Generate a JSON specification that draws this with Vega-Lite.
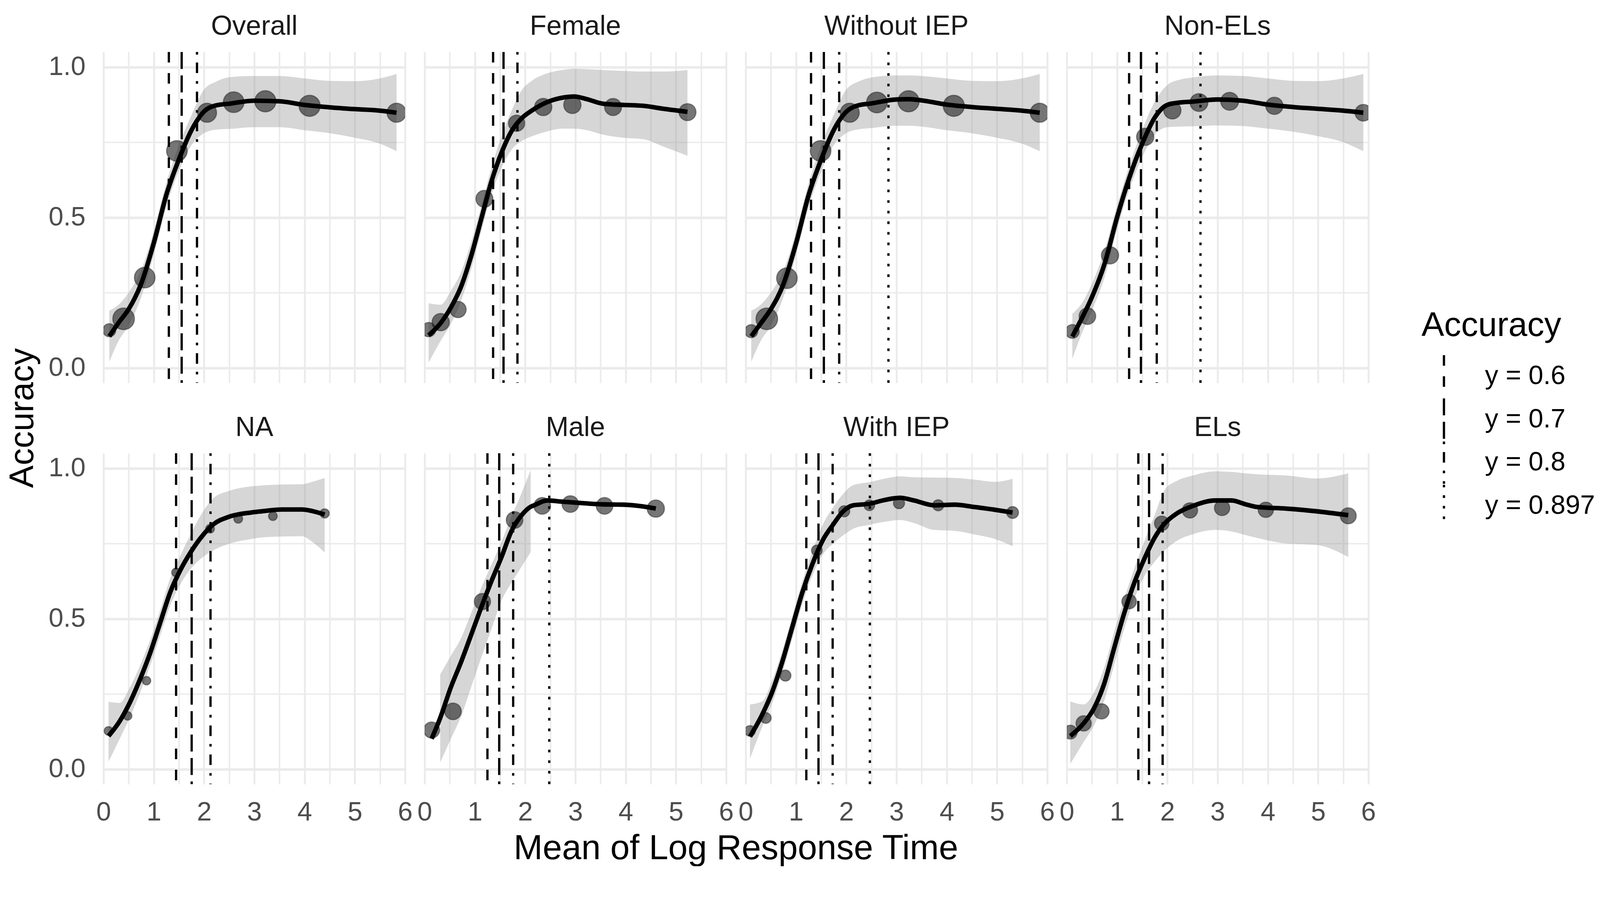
{
  "$schema": "https://vega.github.io/schema/vega-lite/v6.json",
  "background": "white",
  "padding": {"left": 15, "top": 33, "right": 0, "bottom": 0},
  "autosize": {"type": "pad"},
  "title": {"text": "Accuracy", "orient": "left", "anchor": "middle", "fontSize": 87, "font": "Liberation Sans", "fontWeight": "normal", "color": "black", "offset": 20.5, "dx": 55},
  "data": {"values": [
    {"panel":"Overall","t":"pt","x":0.115,"y":0.125,"n":400},
    {"panel":"Overall","t":"pt","x":0.40,"y":0.163,"n":1100},
    {"panel":"Overall","t":"pt","x":0.82,"y":0.30,"n":1000},
    {"panel":"Overall","t":"pt","x":1.46,"y":0.721,"n":1000},
    {"panel":"Overall","t":"pt","x":2.06,"y":0.848,"n":850},
    {"panel":"Overall","t":"pt","x":2.59,"y":0.883,"n":1000},
    {"panel":"Overall","t":"pt","x":3.22,"y":0.886,"n":1050},
    {"panel":"Overall","t":"pt","x":4.10,"y":0.871,"n":1050},
    {"panel":"Overall","t":"pt","x":5.83,"y":0.848,"n":850},
    {"panel":"Female","t":"pt","x":0.08,"y":0.127,"n":480},
    {"panel":"Female","t":"pt","x":0.32,"y":0.152,"n":700},
    {"panel":"Female","t":"pt","x":0.665,"y":0.194,"n":620},
    {"panel":"Female","t":"pt","x":1.19,"y":0.562,"n":680},
    {"panel":"Female","t":"pt","x":1.83,"y":0.813,"n":620},
    {"panel":"Female","t":"pt","x":2.36,"y":0.867,"n":700},
    {"panel":"Female","t":"pt","x":2.94,"y":0.874,"n":700},
    {"panel":"Female","t":"pt","x":3.75,"y":0.867,"n":680},
    {"panel":"Female","t":"pt","x":5.23,"y":0.85,"n":680},
    {"panel":"Without IEP","t":"pt","x":0.11,"y":0.122,"n":400},
    {"panel":"Without IEP","t":"pt","x":0.42,"y":0.163,"n":1100},
    {"panel":"Without IEP","t":"pt","x":0.82,"y":0.298,"n":1000},
    {"panel":"Without IEP","t":"pt","x":1.49,"y":0.721,"n":1000},
    {"panel":"Without IEP","t":"pt","x":2.07,"y":0.848,"n":850},
    {"panel":"Without IEP","t":"pt","x":2.61,"y":0.882,"n":1000},
    {"panel":"Without IEP","t":"pt","x":3.24,"y":0.886,"n":1050},
    {"panel":"Without IEP","t":"pt","x":4.14,"y":0.871,"n":1050},
    {"panel":"Without IEP","t":"pt","x":5.85,"y":0.848,"n":850},
    {"panel":"Non-ELs","t":"pt","x":0.11,"y":0.121,"n":450},
    {"panel":"Non-ELs","t":"pt","x":0.41,"y":0.172,"n":650},
    {"panel":"Non-ELs","t":"pt","x":0.86,"y":0.374,"n":700},
    {"panel":"Non-ELs","t":"pt","x":1.56,"y":0.768,"n":700},
    {"panel":"Non-ELs","t":"pt","x":2.10,"y":0.856,"n":700},
    {"panel":"Non-ELs","t":"pt","x":2.63,"y":0.882,"n":750},
    {"panel":"Non-ELs","t":"pt","x":3.24,"y":0.886,"n":750},
    {"panel":"Non-ELs","t":"pt","x":4.13,"y":0.871,"n":700},
    {"panel":"Non-ELs","t":"pt","x":5.90,"y":0.848,"n":650},
    {"panel":"NA","t":"pt","x":0.10,"y":0.127,"n":180},
    {"panel":"NA","t":"pt","x":0.48,"y":0.177,"n":170},
    {"panel":"NA","t":"pt","x":0.855,"y":0.294,"n":170},
    {"panel":"NA","t":"pt","x":1.44,"y":0.654,"n":170},
    {"panel":"NA","t":"pt","x":2.12,"y":0.799,"n":180},
    {"panel":"NA","t":"pt","x":2.68,"y":0.832,"n":180},
    {"panel":"NA","t":"pt","x":3.37,"y":0.841,"n":180},
    {"panel":"NA","t":"pt","x":4.40,"y":0.85,"n":200},
    {"panel":"Male","t":"pt","x":0.14,"y":0.13,"n":600},
    {"panel":"Male","t":"pt","x":0.565,"y":0.192,"n":650},
    {"panel":"Male","t":"pt","x":1.15,"y":0.557,"n":620},
    {"panel":"Male","t":"pt","x":1.79,"y":0.828,"n":650},
    {"panel":"Male","t":"pt","x":2.34,"y":0.875,"n":650},
    {"panel":"Male","t":"pt","x":2.90,"y":0.881,"n":650},
    {"panel":"Male","t":"pt","x":3.58,"y":0.875,"n":650},
    {"panel":"Male","t":"pt","x":4.60,"y":0.866,"n":700},
    {"panel":"With IEP","t":"pt","x":0.085,"y":0.127,"n":270},
    {"panel":"With IEP","t":"pt","x":0.40,"y":0.17,"n":270},
    {"panel":"With IEP","t":"pt","x":0.79,"y":0.311,"n":290},
    {"panel":"With IEP","t":"pt","x":1.415,"y":0.727,"n":270},
    {"panel":"With IEP","t":"pt","x":1.96,"y":0.857,"n":290},
    {"panel":"With IEP","t":"pt","x":2.46,"y":0.877,"n":270},
    {"panel":"With IEP","t":"pt","x":3.05,"y":0.884,"n":290},
    {"panel":"With IEP","t":"pt","x":3.83,"y":0.877,"n":290},
    {"panel":"With IEP","t":"pt","x":5.31,"y":0.853,"n":330},
    {"panel":"ELs","t":"pt","x":0.07,"y":0.123,"n":450},
    {"panel":"ELs","t":"pt","x":0.335,"y":0.152,"n":550},
    {"panel":"ELs","t":"pt","x":0.69,"y":0.192,"n":550},
    {"panel":"ELs","t":"pt","x":1.24,"y":0.557,"n":500},
    {"panel":"ELs","t":"pt","x":1.89,"y":0.817,"n":500},
    {"panel":"ELs","t":"pt","x":2.45,"y":0.86,"n":550},
    {"panel":"ELs","t":"pt","x":3.09,"y":0.868,"n":550},
    {"panel":"ELs","t":"pt","x":3.96,"y":0.862,"n":550},
    {"panel":"ELs","t":"pt","x":5.60,"y":0.842,"n":600},

    {"panel":"Overall","t":"fit","x":0.115,"y":0.105,"lo":0.02,"hi":0.19},
    {"panel":"Overall","t":"fit","x":0.3,"y":0.15,"lo":0.09,"hi":0.21},
    {"panel":"Overall","t":"fit","x":0.5,"y":0.195,"lo":0.14,"hi":0.25},
    {"panel":"Overall","t":"fit","x":0.75,"y":0.28,"lo":0.235,"hi":0.325},
    {"panel":"Overall","t":"fit","x":1.0,"y":0.415,"lo":0.375,"hi":0.455},
    {"panel":"Overall","t":"fit","x":1.25,"y":0.575,"lo":0.535,"hi":0.615},
    {"panel":"Overall","t":"fit","x":1.5,"y":0.693,"lo":0.655,"hi":0.74},
    {"panel":"Overall","t":"fit","x":1.75,"y":0.79,"lo":0.74,"hi":0.84},
    {"panel":"Overall","t":"fit","x":2.0,"y":0.852,"lo":0.78,"hi":0.925},
    {"panel":"Overall","t":"fit","x":2.25,"y":0.873,"lo":0.792,"hi":0.952},
    {"panel":"Overall","t":"fit","x":2.5,"y":0.878,"lo":0.794,"hi":0.966},
    {"panel":"Overall","t":"fit","x":3.0,"y":0.888,"lo":0.8,"hi":0.97},
    {"panel":"Overall","t":"fit","x":3.5,"y":0.886,"lo":0.8,"hi":0.97},
    {"panel":"Overall","t":"fit","x":4.0,"y":0.874,"lo":0.79,"hi":0.962},
    {"panel":"Overall","t":"fit","x":4.5,"y":0.866,"lo":0.78,"hi":0.954},
    {"panel":"Overall","t":"fit","x":5.0,"y":0.86,"lo":0.765,"hi":0.953},
    {"panel":"Overall","t":"fit","x":5.5,"y":0.855,"lo":0.745,"hi":0.962},
    {"panel":"Overall","t":"fit","x":5.83,"y":0.848,"lo":0.72,"hi":0.977},

    {"panel":"Female","t":"fit","x":0.08,"y":0.108,"lo":0.018,"hi":0.215},
    {"panel":"Female","t":"fit","x":0.32,"y":0.149,"lo":0.09,"hi":0.21},
    {"panel":"Female","t":"fit","x":0.52,"y":0.20,"lo":0.145,"hi":0.255},
    {"panel":"Female","t":"fit","x":0.73,"y":0.272,"lo":0.225,"hi":0.32},
    {"panel":"Female","t":"fit","x":0.93,"y":0.374,"lo":0.33,"hi":0.42},
    {"panel":"Female","t":"fit","x":1.13,"y":0.497,"lo":0.455,"hi":0.54},
    {"panel":"Female","t":"fit","x":1.33,"y":0.62,"lo":0.575,"hi":0.665},
    {"panel":"Female","t":"fit","x":1.53,"y":0.715,"lo":0.665,"hi":0.77},
    {"panel":"Female","t":"fit","x":1.73,"y":0.787,"lo":0.725,"hi":0.855},
    {"panel":"Female","t":"fit","x":1.94,"y":0.831,"lo":0.755,"hi":0.925},
    {"panel":"Female","t":"fit","x":2.14,"y":0.856,"lo":0.77,"hi":0.955},
    {"panel":"Female","t":"fit","x":2.42,"y":0.882,"lo":0.785,"hi":0.978},
    {"panel":"Female","t":"fit","x":2.74,"y":0.898,"lo":0.795,"hi":0.99},
    {"panel":"Female","t":"fit","x":2.98,"y":0.902,"lo":0.795,"hi":0.994},
    {"panel":"Female","t":"fit","x":3.23,"y":0.893,"lo":0.79,"hi":0.993},
    {"panel":"Female","t":"fit","x":3.55,"y":0.878,"lo":0.775,"hi":0.99},
    {"panel":"Female","t":"fit","x":3.95,"y":0.874,"lo":0.765,"hi":0.987},
    {"panel":"Female","t":"fit","x":4.35,"y":0.871,"lo":0.76,"hi":0.985},
    {"panel":"Female","t":"fit","x":4.76,"y":0.861,"lo":0.735,"hi":0.985},
    {"panel":"Female","t":"fit","x":5.23,"y":0.851,"lo":0.705,"hi":0.99},

    {"panel":"Without IEP","t":"fit","x":0.11,"y":0.105,"lo":0.02,"hi":0.19},
    {"panel":"Without IEP","t":"fit","x":0.3,"y":0.148,"lo":0.09,"hi":0.21},
    {"panel":"Without IEP","t":"fit","x":0.5,"y":0.195,"lo":0.14,"hi":0.25},
    {"panel":"Without IEP","t":"fit","x":0.75,"y":0.278,"lo":0.235,"hi":0.322},
    {"panel":"Without IEP","t":"fit","x":1.0,"y":0.413,"lo":0.373,"hi":0.453},
    {"panel":"Without IEP","t":"fit","x":1.25,"y":0.573,"lo":0.533,"hi":0.613},
    {"panel":"Without IEP","t":"fit","x":1.5,"y":0.692,"lo":0.652,"hi":0.738},
    {"panel":"Without IEP","t":"fit","x":1.75,"y":0.79,"lo":0.74,"hi":0.84},
    {"panel":"Without IEP","t":"fit","x":2.0,"y":0.851,"lo":0.78,"hi":0.925},
    {"panel":"Without IEP","t":"fit","x":2.25,"y":0.873,"lo":0.793,"hi":0.952},
    {"panel":"Without IEP","t":"fit","x":2.5,"y":0.879,"lo":0.797,"hi":0.965},
    {"panel":"Without IEP","t":"fit","x":3.0,"y":0.892,"lo":0.805,"hi":0.972},
    {"panel":"Without IEP","t":"fit","x":3.25,"y":0.893,"lo":0.805,"hi":0.972},
    {"panel":"Without IEP","t":"fit","x":3.5,"y":0.889,"lo":0.802,"hi":0.97},
    {"panel":"Without IEP","t":"fit","x":4.0,"y":0.875,"lo":0.79,"hi":0.962},
    {"panel":"Without IEP","t":"fit","x":4.5,"y":0.867,"lo":0.78,"hi":0.954},
    {"panel":"Without IEP","t":"fit","x":5.0,"y":0.861,"lo":0.765,"hi":0.953},
    {"panel":"Without IEP","t":"fit","x":5.5,"y":0.855,"lo":0.745,"hi":0.962},
    {"panel":"Without IEP","t":"fit","x":5.85,"y":0.848,"lo":0.72,"hi":0.977},

    {"panel":"Non-ELs","t":"fit","x":0.11,"y":0.104,"lo":0.03,"hi":0.18},
    {"panel":"Non-ELs","t":"fit","x":0.3,"y":0.165,"lo":0.115,"hi":0.215},
    {"panel":"Non-ELs","t":"fit","x":0.5,"y":0.235,"lo":0.19,"hi":0.28},
    {"panel":"Non-ELs","t":"fit","x":0.75,"y":0.345,"lo":0.3,"hi":0.39},
    {"panel":"Non-ELs","t":"fit","x":1.0,"y":0.5,"lo":0.46,"hi":0.54},
    {"panel":"Non-ELs","t":"fit","x":1.25,"y":0.635,"lo":0.595,"hi":0.675},
    {"panel":"Non-ELs","t":"fit","x":1.5,"y":0.745,"lo":0.7,"hi":0.79},
    {"panel":"Non-ELs","t":"fit","x":1.75,"y":0.832,"lo":0.775,"hi":0.885},
    {"panel":"Non-ELs","t":"fit","x":2.0,"y":0.874,"lo":0.8,"hi":0.94},
    {"panel":"Non-ELs","t":"fit","x":2.25,"y":0.882,"lo":0.802,"hi":0.958},
    {"panel":"Non-ELs","t":"fit","x":2.5,"y":0.885,"lo":0.803,"hi":0.965},
    {"panel":"Non-ELs","t":"fit","x":3.0,"y":0.892,"lo":0.806,"hi":0.972},
    {"panel":"Non-ELs","t":"fit","x":3.5,"y":0.888,"lo":0.804,"hi":0.97},
    {"panel":"Non-ELs","t":"fit","x":4.0,"y":0.875,"lo":0.795,"hi":0.962},
    {"panel":"Non-ELs","t":"fit","x":4.5,"y":0.867,"lo":0.785,"hi":0.954},
    {"panel":"Non-ELs","t":"fit","x":5.0,"y":0.861,"lo":0.77,"hi":0.953},
    {"panel":"Non-ELs","t":"fit","x":5.5,"y":0.855,"lo":0.75,"hi":0.962},
    {"panel":"Non-ELs","t":"fit","x":5.9,"y":0.848,"lo":0.72,"hi":0.977},

    {"panel":"NA","t":"fit","x":0.10,"y":0.11,"lo":0.025,"hi":0.224},
    {"panel":"NA","t":"fit","x":0.32,"y":0.159,"lo":0.1,"hi":0.22},
    {"panel":"NA","t":"fit","x":0.52,"y":0.22,"lo":0.17,"hi":0.27},
    {"panel":"NA","t":"fit","x":0.73,"y":0.30,"lo":0.255,"hi":0.345},
    {"panel":"NA","t":"fit","x":0.93,"y":0.387,"lo":0.345,"hi":0.43},
    {"panel":"NA","t":"fit","x":1.13,"y":0.488,"lo":0.445,"hi":0.53},
    {"panel":"NA","t":"fit","x":1.33,"y":0.589,"lo":0.545,"hi":0.635},
    {"panel":"NA","t":"fit","x":1.53,"y":0.662,"lo":0.615,"hi":0.71},
    {"panel":"NA","t":"fit","x":1.73,"y":0.72,"lo":0.665,"hi":0.78},
    {"panel":"NA","t":"fit","x":1.94,"y":0.77,"lo":0.70,"hi":0.845},
    {"panel":"NA","t":"fit","x":2.18,"y":0.813,"lo":0.727,"hi":0.90},
    {"panel":"NA","t":"fit","x":2.5,"y":0.839,"lo":0.749,"hi":0.925},
    {"panel":"NA","t":"fit","x":2.94,"y":0.853,"lo":0.765,"hi":0.94},
    {"panel":"NA","t":"fit","x":3.15,"y":0.857,"lo":0.77,"hi":0.943},
    {"panel":"NA","t":"fit","x":3.55,"y":0.863,"lo":0.773,"hi":0.946},
    {"panel":"NA","t":"fit","x":3.95,"y":0.863,"lo":0.774,"hi":0.947},
    {"panel":"NA","t":"fit","x":4.15,"y":0.858,"lo":0.756,"hi":0.955},
    {"panel":"NA","t":"fit","x":4.40,"y":0.846,"lo":0.72,"hi":0.968},

    {"panel":"Male","t":"fit","x":0.14,"y":0.101},
    {"panel":"Male","t":"fit","x":0.31,"y":0.17,"lo":0.022,"hi":0.315},
    {"panel":"Male","t":"fit","x":0.52,"y":0.271,"lo":0.10,"hi":0.376},
    {"panel":"Male","t":"fit","x":0.73,"y":0.358,"lo":0.177,"hi":0.437},
    {"panel":"Male","t":"fit","x":0.93,"y":0.448,"lo":0.275,"hi":0.52},
    {"panel":"Male","t":"fit","x":1.13,"y":0.539,"lo":0.372,"hi":0.604},
    {"panel":"Male","t":"fit","x":1.33,"y":0.625,"lo":0.466,"hi":0.68},
    {"panel":"Male","t":"fit","x":1.53,"y":0.705,"lo":0.56,"hi":0.756},
    {"panel":"Male","t":"fit","x":1.73,"y":0.792,"lo":0.62,"hi":0.84},
    {"panel":"Male","t":"fit","x":1.94,"y":0.846,"lo":0.676,"hi":0.922},
    {"panel":"Male","t":"fit","x":2.11,"y":0.872,"lo":0.721,"hi":0.994},
    {"panel":"Male","t":"fit","x":2.18,"y":0.877},
    {"panel":"Male","t":"fit","x":2.44,"y":0.893},
    {"panel":"Male","t":"fit","x":2.74,"y":0.889},
    {"panel":"Male","t":"fit","x":3.15,"y":0.884},
    {"panel":"Male","t":"fit","x":3.55,"y":0.88},
    {"panel":"Male","t":"fit","x":3.95,"y":0.879},
    {"panel":"Male","t":"fit","x":4.35,"y":0.873},
    {"panel":"Male","t":"fit","x":4.60,"y":0.866},

    {"panel":"With IEP","t":"fit","x":0.085,"y":0.108,"lo":0.035,"hi":0.215},
    {"panel":"With IEP","t":"fit","x":0.327,"y":0.181,"lo":0.14,"hi":0.225},
    {"panel":"With IEP","t":"fit","x":0.528,"y":0.257,"lo":0.22,"hi":0.295},
    {"panel":"With IEP","t":"fit","x":0.73,"y":0.358,"lo":0.32,"hi":0.395},
    {"panel":"With IEP","t":"fit","x":0.93,"y":0.474,"lo":0.435,"hi":0.51},
    {"panel":"With IEP","t":"fit","x":1.13,"y":0.589,"lo":0.55,"hi":0.625},
    {"panel":"With IEP","t":"fit","x":1.33,"y":0.683,"lo":0.645,"hi":0.725},
    {"panel":"With IEP","t":"fit","x":1.54,"y":0.763,"lo":0.715,"hi":0.815},
    {"panel":"With IEP","t":"fit","x":1.74,"y":0.813,"lo":0.75,"hi":0.87},
    {"panel":"With IEP","t":"fit","x":1.94,"y":0.857,"lo":0.777,"hi":0.915},
    {"panel":"With IEP","t":"fit","x":2.14,"y":0.877,"lo":0.799,"hi":0.944},
    {"panel":"With IEP","t":"fit","x":2.46,"y":0.882,"lo":0.812,"hi":0.954},
    {"panel":"With IEP","t":"fit","x":2.75,"y":0.894,"lo":0.822,"hi":0.965},
    {"panel":"With IEP","t":"fit","x":3.07,"y":0.902,"lo":0.828,"hi":0.973},
    {"panel":"With IEP","t":"fit","x":3.35,"y":0.893,"lo":0.818,"hi":0.97},
    {"panel":"With IEP","t":"fit","x":3.75,"y":0.877,"lo":0.795,"hi":0.969},
    {"panel":"With IEP","t":"fit","x":4.16,"y":0.879,"lo":0.792,"hi":0.968},
    {"panel":"With IEP","t":"fit","x":4.56,"y":0.871,"lo":0.78,"hi":0.962},
    {"panel":"With IEP","t":"fit","x":4.96,"y":0.862,"lo":0.765,"hi":0.955},
    {"panel":"With IEP","t":"fit","x":5.31,"y":0.853,"lo":0.741,"hi":0.965},

    {"panel":"ELs","t":"fit","x":0.07,"y":0.11,"lo":0.018,"hi":0.225},
    {"panel":"ELs","t":"fit","x":0.335,"y":0.152,"lo":0.09,"hi":0.215},
    {"panel":"ELs","t":"fit","x":0.54,"y":0.202,"lo":0.145,"hi":0.255},
    {"panel":"ELs","t":"fit","x":0.74,"y":0.282,"lo":0.225,"hi":0.335},
    {"panel":"ELs","t":"fit","x":0.94,"y":0.401,"lo":0.345,"hi":0.455},
    {"panel":"ELs","t":"fit","x":1.14,"y":0.517,"lo":0.465,"hi":0.565},
    {"panel":"ELs","t":"fit","x":1.34,"y":0.618,"lo":0.565,"hi":0.665},
    {"panel":"ELs","t":"fit","x":1.54,"y":0.698,"lo":0.64,"hi":0.756},
    {"panel":"ELs","t":"fit","x":1.75,"y":0.77,"lo":0.69,"hi":0.845},
    {"panel":"ELs","t":"fit","x":1.95,"y":0.817,"lo":0.727,"hi":0.929},
    {"panel":"ELs","t":"fit","x":2.19,"y":0.85,"lo":0.759,"hi":0.958},
    {"panel":"ELs","t":"fit","x":2.51,"y":0.875,"lo":0.781,"hi":0.976},
    {"panel":"ELs","t":"fit","x":2.96,"y":0.893,"lo":0.795,"hi":0.99},
    {"panel":"ELs","t":"fit","x":3.28,"y":0.893,"lo":0.79,"hi":0.988},
    {"panel":"ELs","t":"fit","x":3.56,"y":0.88,"lo":0.778,"hi":0.983},
    {"panel":"ELs","t":"fit","x":3.8,"y":0.871,"lo":0.768,"hi":0.98},
    {"panel":"ELs","t":"fit","x":4.37,"y":0.866,"lo":0.75,"hi":0.976},
    {"panel":"ELs","t":"fit","x":4.97,"y":0.857,"lo":0.745,"hi":0.966},
    {"panel":"ELs","t":"fit","x":5.60,"y":0.844,"lo":0.705,"hi":0.983},

    {"panel":"Overall","t":"vl","x":1.30,"acc":"y = 0.6"},
    {"panel":"Overall","t":"vl","x":1.555,"acc":"y = 0.7"},
    {"panel":"Overall","t":"vl","x":1.86,"acc":"y = 0.8"},
    {"panel":"Female","t":"vl","x":1.363,"acc":"y = 0.6"},
    {"panel":"Female","t":"vl","x":1.57,"acc":"y = 0.7"},
    {"panel":"Female","t":"vl","x":1.847,"acc":"y = 0.8"},
    {"panel":"Without IEP","t":"vl","x":1.30,"acc":"y = 0.6"},
    {"panel":"Without IEP","t":"vl","x":1.555,"acc":"y = 0.7"},
    {"panel":"Without IEP","t":"vl","x":1.86,"acc":"y = 0.8"},
    {"panel":"Without IEP","t":"vl","x":2.84,"acc":"y = 0.897"},
    {"panel":"Non-ELs","t":"vl","x":1.24,"acc":"y = 0.6"},
    {"panel":"Non-ELs","t":"vl","x":1.475,"acc":"y = 0.7"},
    {"panel":"Non-ELs","t":"vl","x":1.79,"acc":"y = 0.8"},
    {"panel":"Non-ELs","t":"vl","x":2.66,"acc":"y = 0.897"},
    {"panel":"NA","t":"vl","x":1.444,"acc":"y = 0.6"},
    {"panel":"NA","t":"vl","x":1.754,"acc":"y = 0.7"},
    {"panel":"NA","t":"vl","x":2.129,"acc":"y = 0.8"},
    {"panel":"Male","t":"vl","x":1.25,"acc":"y = 0.6"},
    {"panel":"Male","t":"vl","x":1.484,"acc":"y = 0.7"},
    {"panel":"Male","t":"vl","x":1.762,"acc":"y = 0.8"},
    {"panel":"Male","t":"vl","x":2.48,"acc":"y = 0.897"},
    {"panel":"With IEP","t":"vl","x":1.206,"acc":"y = 0.6"},
    {"panel":"With IEP","t":"vl","x":1.448,"acc":"y = 0.7"},
    {"panel":"With IEP","t":"vl","x":1.73,"acc":"y = 0.8"},
    {"panel":"With IEP","t":"vl","x":2.47,"acc":"y = 0.897"},
    {"panel":"ELs","t":"vl","x":1.423,"acc":"y = 0.6"},
    {"panel":"ELs","t":"vl","x":1.637,"acc":"y = 0.7"},
    {"panel":"ELs","t":"vl","x":1.907,"acc":"y = 0.8"}
  ]},
  "facet": {
    "field": "panel", "type": "nominal",
    "sort": ["Overall","Female","Without IEP","Non-ELs","NA","Male","With IEP","ELs"],
    "header": {
      "title": "Mean of Log Response Time", "titleOrient": "bottom",
      "titleFontSize": 89, "titleFont": "Liberation Sans", "titleFontWeight": "normal", "titleColor": "black", "titlePadding": 15,
      "labelFontSize": 70, "labelFont": "Liberation Sans", "labelColor": "#1A1A1A", "labelPadding": 29
    }
  },
  "columns": 4,
  "spacing": {"column": 50, "row": 80},
  "spec": {
    "width": 772,
    "height": 847,
    "layer": [
      {
        "transform": [{"filter": "datum.t === 'fit'"}],
        "mark": {"type": "area", "interpolate": "monotone", "color": "#999999", "opacity": 0.4, "clip": true},
        "encoding": {
          "x": {"field": "x", "type": "quantitative", "title": null,
            "scale": {"domain": [0, 6], "nice": false, "zero": false},
            "axis": {"values": [0,0.5,1,1.5,2,2.5,3,3.5,4,4.5,5,5.5,6],
              "labelExpr": "datum.value % 1 === 0 ? format(datum.value, 'd') : ''",
              "grid": true, "gridColor": "#EBEBEB",
              "gridWidth": {"condition": {"test": "datum.value % 1 === 0", "value": 4.8}, "value": 3.9},
              "domain": false, "ticks": false, "tickSize": 0,
              "labelFontSize": 68, "labelFont": "Liberation Sans", "labelColor": "#4D4D4D", "labelPadding": 38.5,
              "labelFlush": false, "labelOverlap": false, "labelBound": false, "title": null}},
          "y": {"field": "lo", "type": "quantitative", "title": null,
            "scale": {"domain": [-0.05, 1.05], "nice": false, "zero": false},
            "axis": {"values": [0,0.25,0.5,0.75,1],
              "labelExpr": "(datum.value * 2) % 1 === 0 ? format(datum.value, '.1f') : ''",
              "grid": true, "gridColor": "#EBEBEB",
              "gridWidth": {"condition": {"test": "(datum.value * 2) % 1 === 0", "value": 6.3}, "value": 3.4},
              "domain": false, "ticks": false, "tickSize": 0,
              "labelFontSize": 68, "labelFont": "Liberation Sans", "labelColor": "#4D4D4D", "labelPadding": 46.5,
              "labelOverlap": false, "title": null}},
          "y2": {"field": "hi"}
        }
      },
      {
        "transform": [{"filter": "datum.t === 'pt'"}],
        "mark": {"type": "circle", "fill": "#1a1a1a", "fillOpacity": 0.6, "stroke": "#000000", "strokeOpacity": 0.35, "strokeWidth": 3, "clip": true},
        "encoding": {
          "x": {"field": "x", "type": "quantitative", "title": null},
          "y": {"field": "y", "type": "quantitative", "title": null},
          "size": {"field": "n", "type": "quantitative", "scale": {"domain": [0, 1000], "range": [0, 2813]}, "legend": null}
        }
      },
      {
        "transform": [{"filter": "datum.t === 'fit'"}],
        "mark": {"type": "line", "interpolate": "monotone", "color": "black", "strokeWidth": 11.6, "clip": true},
        "encoding": {
          "x": {"field": "x", "type": "quantitative", "title": null},
          "y": {"field": "y", "type": "quantitative", "title": null}
        }
      },
      {
        "transform": [{"filter": "datum.t === 'vl'"}],
        "mark": {"type": "rule", "color": "black", "strokeWidth": 5.8, "strokeCap": "butt", "clip": true},
        "encoding": {
          "x": {"field": "x", "type": "quantitative", "title": null},
          "strokeDash": {"field": "acc", "type": "nominal",
            "scale": {"domain": ["y = 0.6","y = 0.7","y = 0.8","y = 0.897"],
              "range": [[27,27],[43.5,16.5],[6.8,20.3,27,20.3],[6.8,20.3]]},
            "legend": {"title": "Accuracy", "orient": "none", "legendX": 3374, "legendY": 658,
              "symbolType": "M0,-1L0,1", "symbolSize": 11772, "symbolStrokeWidth": 5.8, "symbolStrokeColor": "black",
              "clipHeight": 108.5,
              "labelFontSize": 68, "labelFont": "Liberation Sans", "labelColor": "black", "labelOffset": 47.5, "labelLimit": 1000,
              "titleFontSize": 87, "titleFont": "Liberation Sans", "titleFontWeight": "normal", "titleColor": "black", "titleLimit": 1000,
              "titlePadding": 31, "rowPadding": 1.5}}
        }
      }
    ]
  },
  "config": {
    "font": "Liberation Sans",
    "view": {"stroke": null}
  }
}
